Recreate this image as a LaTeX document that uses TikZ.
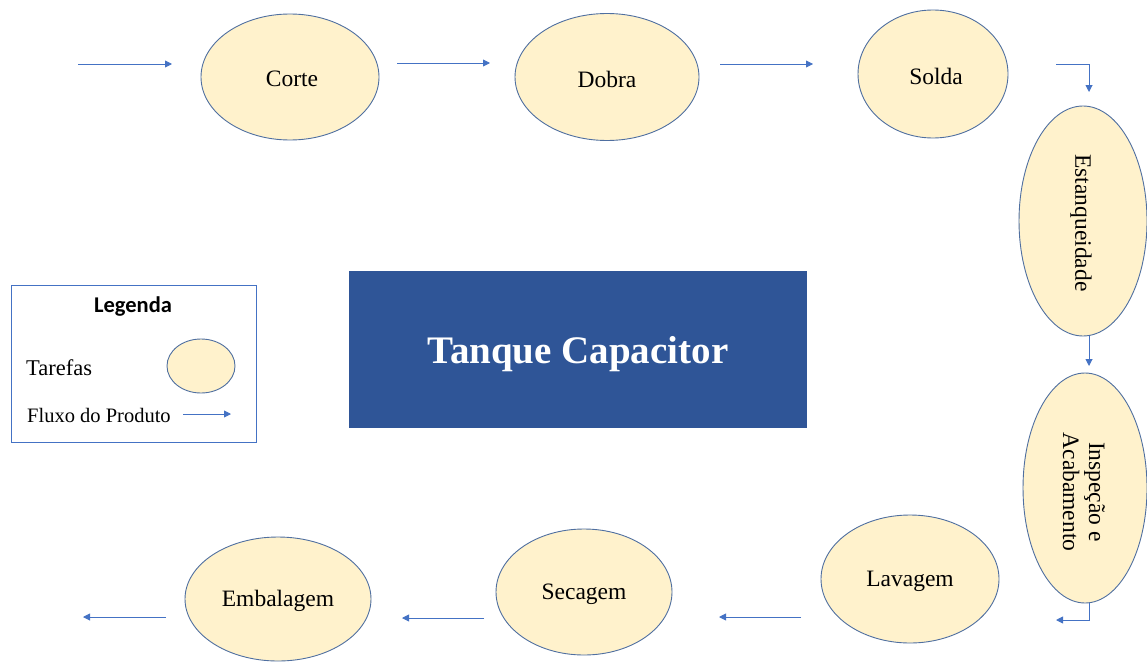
\documentclass[tikz,border=0pt]{standalone}
\usepackage{fontspec}
\setmainfont{Liberation Serif}
\newfontfamily\legfont{Carlito}
\usetikzlibrary{shapes.geometric,arrows.meta}
\definecolor{taskfill}{HTML}{FFF2CC}
\definecolor{taskline}{HTML}{4F6FA0}
\definecolor{flow}{HTML}{4472C4}
\definecolor{boxblue}{HTML}{2F5597}
\begin{document}
\begin{tikzpicture}[x=1pt,y=-1pt,
  task/.style={ellipse,draw=taskline,fill=taskfill,line width=0.9pt,inner sep=0pt,
    font=\fontsize{23.5}{26}\selectfont},
  tasklabel/.style={font=\fontsize{23.5}{26}\selectfont},
  vtext/.style={rotate=-90,align=center,font=\fontsize{23.5}{26}\selectfont},
  flowarrow/.style={draw=flow,line width=0.9pt,-{Triangle[length=7pt,width=7pt]}},
]
\useasboundingbox (0,0) rectangle (1147,661);
% tasks
\node[task,minimum width=178,minimum height=126] (corte) at (290,77) {};
\node[tasklabel] (cortet) at (292,79) {Corte};
\node[task,minimum width=184,minimum height=127] (dobra) at (607,77) {};
\node[tasklabel] (dobrat) at (607,79) {Dobra};
\node[task,minimum width=150,minimum height=128] (solda) at (933,74) {};
\node[tasklabel] (soldat) at (936,76) {Solda};
\node[task,minimum width=128,minimum height=230] (estanq) at (1083,221) {};
\node[vtext] (estanqt) at (1081,223) {Estanqueidade};
\node[task,minimum width=124,minimum height=230] (insp) at (1085,488) {};
\node[vtext] (inspt) at (1084,492) {Inspeção e\\Acabamento};
\node[task,minimum width=178,minimum height=128] (lavagem) at (910,579) {};
\node[tasklabel] (lavagemt) at (910,581) {Lavagem};
\node[task,minimum width=176,minimum height=126] (secagem) at (584,592) {};
\node[tasklabel] (secagemt) at (584,594) {Secagem};
\node[task,minimum width=186,minimum height=124] (embal) at (278,599) {};
\node[tasklabel] (embalt) at (278,601) {Embalagem};
% center box
\node[fill=boxblue,minimum width=458,minimum height=157,inner sep=0pt] (title) at (578,349.5) {};
\node[text=white,font=\fontsize{39}{44}\selectfont\bfseries] (titlet) at (578,354) {Tanque Capacitor};
% flow coordinates
\coordinate (a1s) at (78,64);   \coordinate (a1e) at (172,64);
\coordinate (a2s) at (397,63);  \coordinate (a2e) at (490,63);
\coordinate (a3s) at (720,64);  \coordinate (a3e) at (813,64);
\coordinate (a4s) at (1056,64); \coordinate (a4c) at (1089,64); \coordinate (a4e) at (1089,92);
\coordinate (a5s) at (1089,336); \coordinate (a5e) at (1089,366);
\coordinate (a6s) at (1089,603); \coordinate (a6c) at (1089,620); \coordinate (a6e) at (1056,620);
\coordinate (a7s) at (801,617); \coordinate (a7e) at (719,617);
\coordinate (a8s) at (484,618); \coordinate (a8e) at (402,618);
\coordinate (a9s) at (166,617); \coordinate (a9e) at (83,617);
\draw[flowarrow] (a1s) -- (a1e);
\draw[flowarrow] (a2s) -- (a2e);
\draw[flowarrow] (a3s) -- (a3e);
\draw[flowarrow] (a4s) -- (a4c) -- (a4e);
\draw[flowarrow] (a5s) -- (a5e);
\draw[flowarrow] (a6s) -- (a6c) -- (a6e);
\draw[flowarrow] (a7s) -- (a7e);
\draw[flowarrow] (a8s) -- (a8e);
\draw[flowarrow] (a9s) -- (a9e);
% legend
\node[draw=flow,line width=0.8pt,minimum width=245,minimum height=157,inner sep=0pt] (legend) at (133.5,363.5) {};
\node[font=\legfont\bfseries\fontsize{22.5}{26}\selectfont] (legt) at (133,307) {Legenda};
\node[anchor=west,inner sep=0pt,font=\fontsize{22.5}{26}\selectfont] (legtask) at (26,368) {Tarefas};
\node[task,minimum width=68,minimum height=54] (legell) at (201,366) {};
\node[anchor=west,inner sep=0pt,font=\fontsize{20.5}{24}\selectfont] (legflow) at (27,415) {Fluxo do Produto};
\coordinate (lfs) at (183,414); \coordinate (lfe) at (231,414);
\draw[flowarrow] (lfs) -- (lfe);
\end{tikzpicture}
\end{document}
